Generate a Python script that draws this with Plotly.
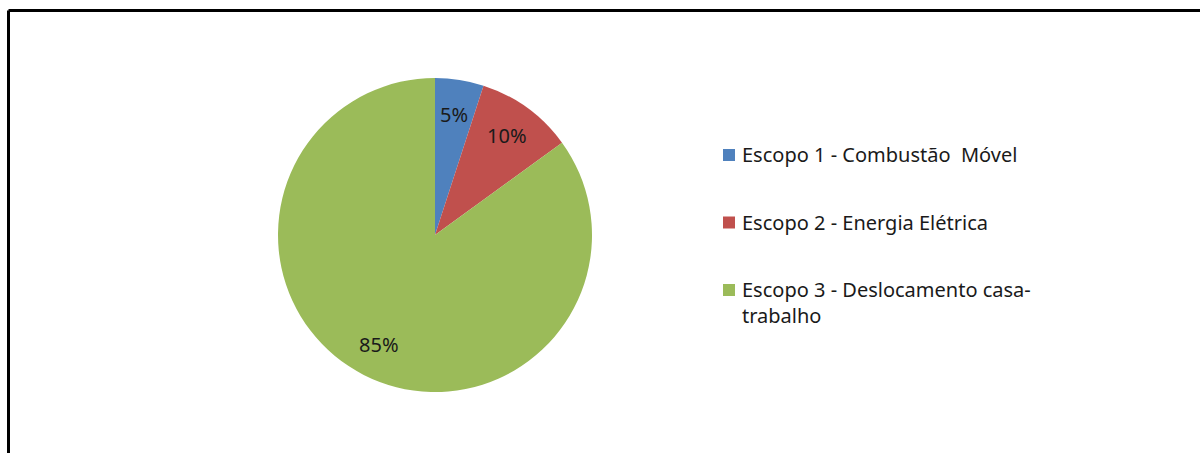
import math
import plotly.graph_objects as go

W, H = 1200, 453

categories = ["Escopo 1 - Combustão  Móvel", "Escopo 2 - Energia Elétrica", "Escopo 3 - Deslocamento casa-<br>trabalho"]
values = [5, 10, 85]
colors = ["#4F81BD", "#C0504D", "#9BBB59"]

FONT = "Noto Sans"
TXT = "#1a1a1a"

def px_x(x):
    return x / W

def px_y(y):
    return 1 - y / H

cx, cy, r = 435, 235, 157

fig = go.Figure()
fig.add_trace(go.Pie(
    labels=[c.replace("<br>", "") for c in categories],
    values=values,
    sort=False,
    direction="clockwise",
    rotation=0,
    marker=dict(colors=colors, line=dict(width=0)),
    textinfo="none",
    domain=dict(x=[px_x(cx - r), px_x(cx + r)], y=[px_y(cy + r), px_y(cy - r)]),
    showlegend=False,
    hoverinfo="label+percent",
))

annotations = []
# data labels at a fixed fraction of the radius, at each slice's mid angle
total = sum(values)
cum = 0
for v in values:
    mid = (cum + v / 2) / total * 2 * math.pi
    cum += v
    lx = cx + 0.78 * r * math.sin(mid)
    ly = cy - 0.78 * r * math.cos(mid)
    annotations.append(dict(xref="paper", yref="paper", x=px_x(lx), y=px_y(ly),
                            xanchor="center", yanchor="middle", showarrow=False,
                            text=f"{v}%", font=dict(family=FONT, size=20, color=TXT)))

shapes = [
    dict(type="line", xref="paper", yref="paper", x0=px_x(8.5), x1=1.01, y0=px_y(10.5), y1=px_y(10.5),
         line=dict(color="black", width=3)),
    dict(type="line", xref="paper", yref="paper", x0=px_x(8.5), x1=px_x(8.5), y0=px_y(10.5), y1=-0.01,
         line=dict(color="black", width=3)),
]
row_y = [155, 222.5, 290]
for i, (cat, col) in enumerate(zip(categories, colors)):
    y = row_y[i]
    shapes.append(dict(type="rect", xref="paper", yref="paper",
                       x0=px_x(723), x1=px_x(735), y0=px_y(y + 6), y1=px_y(y - 6),
                       fillcolor=col, line=dict(width=0)))
    annotations.append(dict(xref="paper", yref="paper", x=px_x(740), y=px_y(y - 16),
                            xanchor="left", yanchor="top", align="left",
                            text=cat, showarrow=False,
                            font=dict(family=FONT, size=20, color=TXT)))

fig.update_layout(
    width=W, height=H,
    margin=dict(l=0, r=0, t=0, b=0),
    paper_bgcolor="white", plot_bgcolor="white",
    shapes=shapes, annotations=annotations,
)

fig.write_html("out.html")
